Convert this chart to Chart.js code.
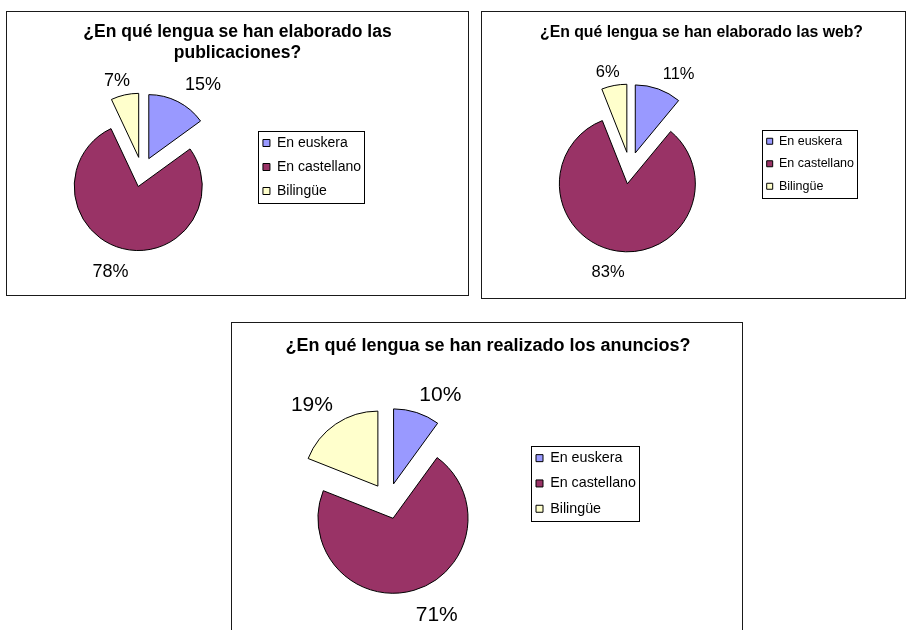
<!DOCTYPE html>
<html lang="es">
<head>
<meta charset="utf-8">
<title>¿En qué lengua?</title>
<script src="https://cdn.jsdelivr.net/npm/chart.js@4.4.1/dist/chart.umd.min.js"></script>
<style>
  html, body { margin: 0; padding: 0; background: #fff; }
  body { width: 906px; height: 630px; position: relative; overflow: hidden; font-family: "Liberation Sans", Arial, sans-serif; }
  .caja { position: absolute; box-sizing: border-box; border: 1px solid #1a1a1a; background: #fff; }
  .lienzo { position: absolute; left: 0; top: 0; width: 100%; height: 100%; }
  .titulo { position: absolute; text-align: center; font-weight: bold; color: #000; white-space: nowrap; }
  #caja1 { left: 6px; top: 11px; width: 463px; height: 285px; }
  #caja2 { left: 481px; top: 11px; width: 425px; height: 288px; }
  #caja3 { left: 231px; top: 322px; width: 512px; height: 330px; }
</style>
</head>
<body>

<div class="caja" id="caja1">
  <div class="lienzo"><canvas id="graficoPublicaciones"></canvas></div>
  <div class="titulo" style="left:0; width:461px; top:9px; font-size:17.5px; line-height:21px;">¿En qué lengua se han elaborado las<br>publicaciones?</div>
</div>

<div class="caja" id="caja2">
  <div class="lienzo"><canvas id="graficoWeb"></canvas></div>
  <div class="titulo" style="left:8px; width:423px; top:10px; font-size:15.8px; line-height:19px;">¿En qué lengua se han elaborado las web?</div>
</div>

<div class="caja" id="caja3">
  <div class="lienzo"><canvas id="graficoAnuncios"></canvas></div>
  <div class="titulo" style="left:1px; width:510px; top:11px; font-size:18px; line-height:22px;">¿En qué lengua se han realizado los anuncios?</div>
</div>

<script>
// Datos de las tres encuestas (porcentajes)
const categorias = ['En euskera', 'En castellano', 'Bilingüe'];
const publicaciones = [15, 78, 7];
const webs = [11, 83, 6];
const anuncios = [10, 71, 19];

const colores = ['#9999FF', '#993366', '#FFFFCC'];
const FUENTE = '"Liberation Sans", Arial, sans-serif';

Chart.defaults.font.family = FUENTE;
Chart.defaults.color = '#000';

/**
 * Sectores separados del centro (como el gráfico original de Excel)
 */
const explotar = {
    id: 'explotar',
    beforeDatasetDraw(chart, args, opts) {
        const ctx = chart.ctx;
        args.meta.data.forEach(arco => {
            const medio = (arco.startAngle + arco.endAngle) / 2;
            ctx.save();
            ctx.translate(Math.cos(medio) * opts.distancia, Math.sin(medio) * opts.distancia);
            arco.draw(ctx);
            ctx.restore();
        });
        return false;
    }
};

/**
 * Etiquetas de porcentaje fuera de cada sector
 */
const etiquetas = {
    id: 'etiquetas',
    afterDatasetsDraw(chart, args, opts) {
        const ctx = chart.ctx;
        const meta = chart.getDatasetMeta(0);
        const valores = chart.data.datasets[0].data;
        ctx.save();
        ctx.font = opts.size + 'px ' + FUENTE;
        ctx.fillStyle = '#000';
        ctx.textAlign = 'center';
        ctx.textBaseline = 'middle';
        meta.data.forEach((arco, i) => {
            const texto = valores[i] + '%';
            const medio = (arco.startAngle + arco.endAngle) / 2;
            const dx = Math.cos(medio);
            const dy = Math.sin(medio);
            const ancho = ctx.measureText(texto).width;
            const alto = opts.size * 0.72;
            const r = arco.outerRadius + opts.distancia + opts.hueco
                + Math.abs(dx) * ancho / 2 + Math.abs(dy) * alto / 2;
            // pequeño desplazamiento, las etiquetas de Excel quedan algo más abajo y a la derecha
            const x = arco.x + dx * r + Math.sign(dx) * ancho * 0.3 + 4;
            const y = arco.y + dy * r + 4;
            ctx.fillText(texto, x, y);
        });
        ctx.restore();
    }
};

/**
 * Marco alrededor de la leyenda
 */
const marcoLeyenda = {
    id: 'marcoLeyenda',
    afterDraw(chart) {
        const cajas = chart.legend.legendHitBoxes;
        if (!cajas || !cajas.length) return;
        const ctx = chart.ctx;
        const izq = Math.min(...cajas.map(c => c.left)) - 5;
        const der = Math.max(...cajas.map(c => c.left + c.width)) + 3;
        const arr = cajas[0].top - 5;
        const ult = cajas[cajas.length - 1];
        const aba = ult.top + ult.height + 5;
        ctx.save();
        ctx.strokeStyle = '#000';
        ctx.lineWidth = 1;
        ctx.strokeRect(Math.round(izq) + 0.5, Math.round(arr) + 0.5,
            Math.round(der - izq), Math.round(aba - arr));
        ctx.restore();
    }
};

function crearGrafico(canvasId, valores, cfg) {
    const ctx = document.getElementById(canvasId).getContext('2d');
    return new Chart(ctx, {
        type: 'pie',
        data: {
            labels: categorias,
            datasets: [{
                data: valores,
                backgroundColor: colores,
                borderColor: '#000',
                borderWidth: 1,
                radius: cfg.radio
            }]
        },
        options: {
            responsive: true,
            maintainAspectRatio: false,
            animation: false,
            events: [],
            layout: { padding: cfg.padding },
            plugins: {
                legend: {
                    position: 'right',
                    align: 'start',
                    labels: {
                        boxWidth: cfg.caja,
                        boxHeight: cfg.caja,
                        padding: cfg.sep,
                        color: '#000',
                        font: { family: FUENTE, size: cfg.letraLeyenda }
                    }
                },
                tooltip: { enabled: false },
                explotar: { distancia: cfg.explosion },
                etiquetas: { size: cfg.letraEtiqueta, distancia: cfg.explosion, hueco: 9 }
            }
        },
        plugins: [explotar, etiquetas, marcoLeyenda]
    });
}

crearGrafico('graficoPublicaciones', publicaciones, {
    radio: 64, explosion: 15,
    padding: { left: 24, right: 97, top: 114, bottom: 77 },
    caja: 7, sep: 10, letraLeyenda: 14, letraEtiqueta: 18
});

crearGrafico('graficoWeb', webs, {
    radio: 68, explosion: 16,
    padding: { left: 21, right: 41, top: 113, bottom: 87 },
    caja: 6, sep: 10, letraLeyenda: 12.5, letraEtiqueta: 16.5
});

crearGrafico('graficoAnuncios', anuncios, {
    radio: 75, explosion: 18,
    padding: { left: 19, right: 96, top: 117, bottom: 89 },
    caja: 7, sep: 11, letraLeyenda: 14.3, letraEtiqueta: 21
});
</script>
</body>
</html>
